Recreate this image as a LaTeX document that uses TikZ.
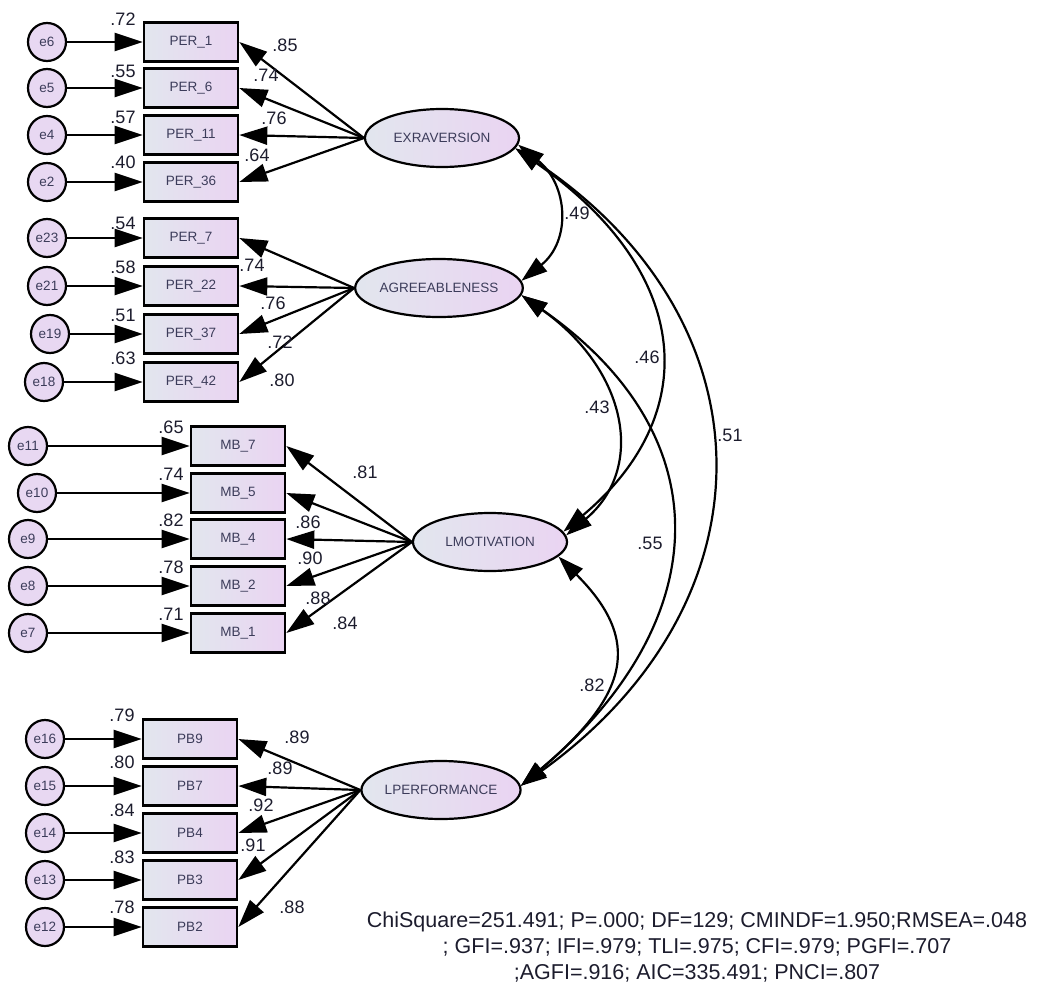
\documentclass[tikz,border=0pt]{standalone}
\usepackage{fontspec}
\setmainfont{Liberation Sans}
\usetikzlibrary{arrows.meta,shapes.geometric,positioning}
\definecolor{shadeL}{RGB}{226,230,238}
\definecolor{shadeR}{RGB}{234,212,242}
\definecolor{errfill}{RGB}{232,216,242}
\definecolor{labtext}{RGB}{60,60,90}
\definecolor{numtext}{RGB}{28,28,45}
\tikzstyle{obs}=[rectangle,draw,line width=2.6pt,minimum width=94pt,minimum height=39pt,inner sep=0pt,left color=shadeL,right color=shadeR,text=labtext,font=\fontsize{13.5}{15}\selectfont]
\tikzstyle{lat}=[ellipse,draw,line width=2.2pt,minimum width=154pt,minimum height=58pt,inner sep=0pt,left color=shadeL,right color=shadeR,text=labtext,font=\fontsize{13.5}{15}\selectfont]
\tikzstyle{err}=[circle,draw,line width=2.2pt,minimum size=38pt,inner sep=0pt,fill=errfill,text=labtext,font=\fontsize{13.5}{15}\selectfont]
\tikzstyle{num}=[inner sep=0pt,text=numtext,font=\fontsize{18}{20}\selectfont]
\tikzstyle{load}=[line width=2.2pt,-{Triangle[length=28pt,width=18pt]}]
\tikzstyle{cov}=[line width=2.2pt,{Triangle[length=26pt,width=17pt]}-{Triangle[length=26pt,width=17pt]}]
\newcommand{\drawloads}[2]{
	\foreach \b in {#2}{
		\draw[load] (#1.west) -- (\b.east);
	}
}

\begin{document}
\begin{tikzpicture}[x=1pt,y=-1pt]
\useasboundingbox (0,0) rectangle (1037,985);

% latent factors
\node[lat] (EXR) at (442,138) {EXRAVERSION};
\node[lat] (AGR) at (439,288) {AGREEABLENESS};
\node[lat] (LMOT) at (490,542) {LMOTIVATION};
\node[lat] (LPERF) at (441,790) {LPERFORMANCE};

% items with errors and r2
\foreach \nm/\txt/\yy/\ea/\ex/\vv/\vy in {per1/PER\_1/42/e6/47/.72/19, per6/PER\_6/88/e5/47/.55/71,
  per11/PER\_11/135/e4/47/.57/117, per36/PER\_36/182/e2/47/.40/162,
  per7/PER\_7/238/e23/47/.54/223, per22/PER\_22/286/e21/47/.58/267,
  per37/PER\_37/334/e19/50/.51/315, per42/PER\_42/382/e18/44/.63/358}{
	\node[obs] (\nm) at (191,\yy) {\txt};
	\node[err] (\ea) at (\ex,\yy) {\ea};
	\node[num] (v\nm) at (123,\vy) {\vv};
	\draw[load] (\ea) -- (\nm);
}
\foreach \nm/\txt/\yy/\ea/\ex/\vv in {mb7/MB\_7/446/e11/28/.65, mb5/MB\_5/493/e10/37/.74,
  mb4/MB\_4/539/e9/28/.82, mb2/MB\_2/586/e8/28/.78, mb1/MB\_1/633/e7/28/.71}{
	\node[obs] (\nm) at (238,\yy) {\txt};
	\node[err] (\ea) at (\ex,\yy) {\ea};
	\node[num] (v\nm) at (171,\yy-19) {\vv};
	\draw[load] (\ea) -- (\nm);
}
\foreach \nm/\txt/\yy/\ea/\vv/\vy in {pb9/PB9/739/e16/.79/715, pb7/PB7/786/e15/.80/762,
  pb4/PB4/833/e14/.84/810, pb3/PB3/880/e13/.83/857, pb2/PB2/927/e12/.78/907}{
	\node[obs] (\nm) at (190,\yy) {\txt};
	\node[err] (\ea) at (45,\yy) {\ea};
	\node[num] (v\nm) at (122,\vy) {\vv};
	\draw[load] (\ea) -- (\nm);
}

% loadings
\drawloads{EXR}{per1,per6,per11,per36}
\drawloads{AGR}{per7,per22,per37,per42}
\drawloads{LMOT}{mb7,mb5,mb4,mb2,mb1}
\drawloads{LPERF}{pb9,pb7,pb4,pb3,pb2}
\foreach \vv/\x/\y [count=\i] in {.85/285/45, .74/266/75, .76/274/118, .64/257/155,
  .74/252/265, .76/273/303, .72/280/342, .80/282/380,
  .81/365/472, .86/308/522, .90/310/558, .88/318/598, .84/345/623,
  .89/297/737, .89/280/768, .92/261/805, .91/253/845, .88/292/907}{
	\node[num] (ld\i) at (\x,\y) {\vv};
}

% correlations
\draw[cov] (EXR.-5) .. controls +(50,40) and +(50,-40) .. (AGR.5);
\draw[cov] (EXR.-8) .. controls +(180,126) and +(138,-116) .. (LMOT.8);
\draw[cov] (EXR.-8) .. controls +(258,172) and +(257,-185) .. (LPERF.3);
\draw[cov] (AGR.-5) .. controls +(106,75) and +(80,-67) .. (LMOT.5);
\draw[cov] (AGR.-5) .. controls +(205,143) and +(192,-161) .. (LPERF.3);
\draw[cov] (LMOT.-12) .. controls +(85,85) and +(107,-90) .. (LPERF.3);
\node[num] (c1) at (577,213) {.49};
\node[num] (c2) at (647,357) {.46};
\node[num] (c3) at (597,407) {.43};
\node[num] (c4) at (730,435) {.51};
\node[num] (c5) at (650,543) {.55};
\node[num] (c6) at (592,685) {.82};

% fit indices
\node[align=center,inner sep=0pt,text=numtext,font=\fontsize{21.5}{26}\selectfont] (fit) at (697,947)
  {ChiSquare=251.491; P=.000; DF=129; CMINDF=1.950;RMSEA=.048\\; GFI=.937; IFI=.979; TLI=.975; CFI=.979; PGFI=.707\\;AGFI=.916; AIC=335.491; PNCI=.807};
\end{tikzpicture}
\end{document}
